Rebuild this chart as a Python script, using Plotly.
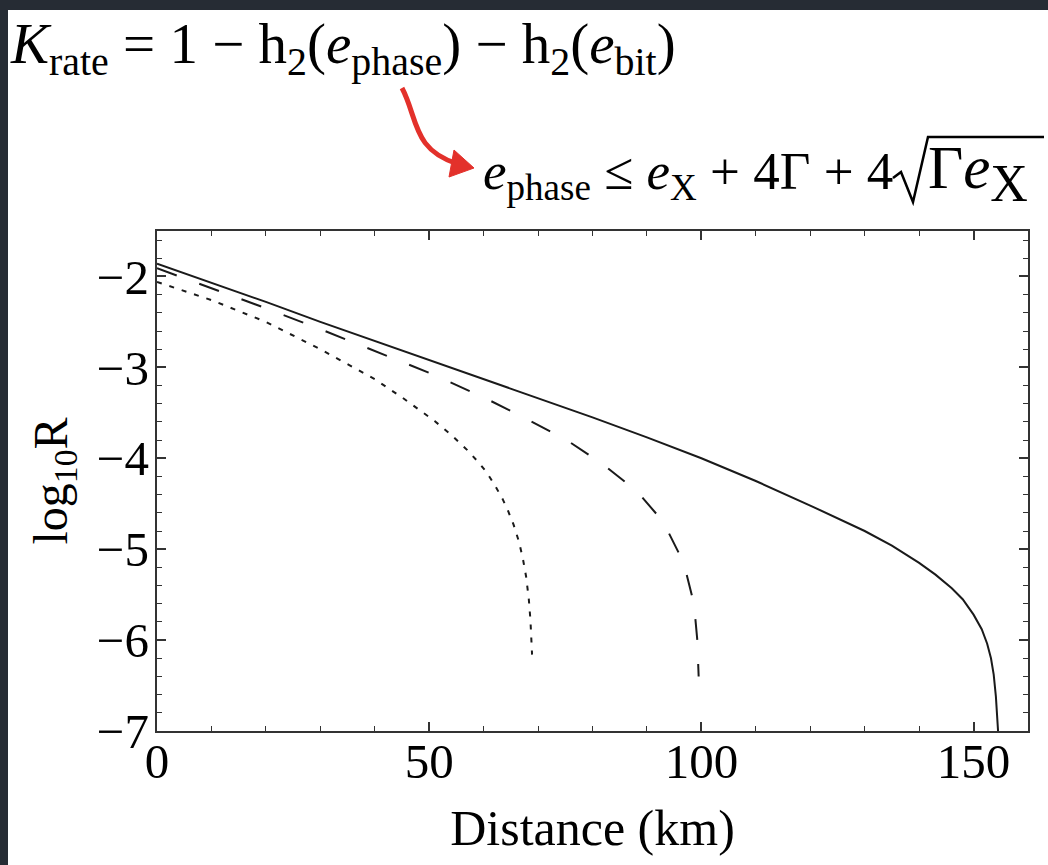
import plotly.graph_objects as go

# ---- data ----
solid_x = [0, 10, 20, 30, 40, 50, 60, 70, 80, 90, 100, 110, 120, 130, 135, 140, 143, 146, 148, 150, 151.5, 152.5, 153.2, 153.7, 154.1, 154.5]
solid_y = [-1.86, -2.07, -2.28, -2.50, -2.71, -2.92, -3.13, -3.34, -3.55, -3.77, -4.00, -4.25, -4.52, -4.80, -4.96, -5.15, -5.28, -5.43, -5.55, -5.72, -5.88, -6.04, -6.20, -6.38, -6.62, -7.0]

dashed_x = [0, 10, 20, 30, 40, 50, 60, 67, 75, 82, 86, 89, 92, 94, 96, 97.3, 98.3, 98.9, 99.25, 99.45, 99.5]
dashed_y = [-1.91, -2.13, -2.35, -2.58, -2.82, -3.06, -3.33, -3.54, -3.79, -4.07, -4.26, -4.42, -4.63, -4.82, -5.06, -5.28, -5.52, -5.77, -6.00, -6.25, -6.40]

dotted_x = [0, 10, 20, 30, 40, 45, 48, 51, 54, 57, 59, 60.5, 62, 63.5, 64.5, 65.5, 66.5, 67.2, 67.8, 68.3, 68.6, 68.8, 68.9]
dotted_y = [-2.06, -2.26, -2.50, -2.80, -3.13, -3.33, -3.46, -3.59, -3.74, -3.91, -4.04, -4.15, -4.29, -4.45, -4.58, -4.73, -4.92, -5.10, -5.30, -5.55, -5.78, -6.00, -6.16]

x_ticks = [0, 50, 100, 150]
y_ticks = [-7, -6, -5, -4, -3, -2]

# ---- layout geometry (pixels) ----
W, H = 1048, 865
L, R, T, B = 157, 1028, 231, 731


def px(x):
    return (x - L) / (R - L)


def py(y):
    return (B - y) / (B - T)


FONT = "Liberation Serif"
INK = "#1a1a1a"
AX = "#333333"

fig = go.Figure()
fig.add_trace(go.Scatter(x=solid_x, y=solid_y, mode="lines",
                         line=dict(color=INK, width=2), showlegend=False))
fig.add_trace(go.Scatter(x=dashed_x, y=dashed_y, mode="lines",
                         line=dict(color=INK, width=2, dash="21px,24px"), showlegend=False))
fig.add_trace(go.Scatter(x=dotted_x, y=dotted_y, mode="lines",
                         line=dict(color=INK, width=2, dash="5px,8px"), showlegend=False))

axis_common = dict(
    showline=True, linecolor=AX, linewidth=2.4, mirror="ticks",
    ticks="inside", ticklen=9, tickwidth=1.5, tickcolor=AX,
    showgrid=False, zeroline=False, automargin=False,
    tickfont=dict(family=FONT, size=49, color="black"),
)

fig.update_xaxes(
    range=[0, 160], tickmode="array", tickvals=x_ticks,
    minor=dict(dtick=10, tick0=0, ticks="inside", ticklen=5, tickwidth=1.2, tickcolor=AX, showgrid=False),
    title=dict(text="Distance (km)", font=dict(family=FONT, size=50, color="black"), standoff=22),
    ticklabelstandoff=-14,
    **axis_common,
)
fig.update_yaxes(
    range=[-7, -1.5], tickmode="array", tickvals=y_ticks,
    minor=dict(dtick=0.2, tick0=0, ticks="inside", ticklen=5, tickwidth=1.2, tickcolor=AX, showgrid=False),
    title=dict(text="log<sub>10</sub>R", font=dict(family=FONT, size=48, color="black"), standoff=14),
    ticklabelstandoff=-4,
    **axis_common,
)

shapes = []
# dark frame bands (top and left) of the screenshot
dark = "#262c34"
shapes.append(dict(type="rect", xref="paper", yref="paper", x0=px(-5), x1=px(W + 5), y0=py(10), y1=py(-5),
                   fillcolor=dark, line=dict(width=0), layer="above"))
shapes.append(dict(type="rect", xref="paper", yref="paper", x0=px(-5), x1=px(8), y0=py(H + 5), y1=py(-5),
                   fillcolor=dark, line=dict(width=0), layer="above"))

# red curved arrow
red = "#e3312b"
p0, c1, c2, p1 = (402, 88), (418, 118), (412, 150), (458, 164)
path = "M {} {} C {} {} {} {} {} {}".format(px(p0[0]), py(p0[1]), px(c1[0]), py(c1[1]),
                                           px(c2[0]), py(c2[1]), px(p1[0]), py(p1[1]))
shapes.append(dict(type="path", xref="paper", yref="paper", path=path,
                   line=dict(color=red, width=5), layer="above"))
head = "M {} {} L {} {} L {} {} Z".format(px(474), py(168), px(454), py(150), px(449), py(177))
shapes.append(dict(type="path", xref="paper", yref="paper", path=head,
                   fillcolor=red, line=dict(color=red, width=1), layer="above"))

# radical sign for sqrt
rad = "M {} {} L {} {} L {} {} L {} {} L {} {}".format(px(893), py(178), px(901), py(172), px(913), py(202),
                                                    px(928), py(137), px(1044), py(137))
shapes.append(dict(type="path", xref="paper", yref="paper", path=rad,
                   line=dict(color="black", width=2.5), layer="above"))

annotations = [
    dict(text="<i>K</i><sub>rate</sub> = 1 − h<sub>2</sub>(<i>e</i><sub>phase</sub>) − h<sub>2</sub>(<i>e</i><sub>bit</sub>)",
         xref="paper", yref="paper", x=px(8), y=py(48), xanchor="left", yanchor="middle",
         showarrow=False, font=dict(family=FONT, size=57, color="black")),
    dict(text="<i>e</i><sub>phase</sub> ≤ <i>e</i><sub>X</sub> + 4Γ + 4",
         xref="paper", yref="paper", x=px(895), y=py(175), xanchor="right", yanchor="middle",
         showarrow=False, font=dict(family=FONT, size=53, color="black")),
    dict(text="Γ<i>e</i><sub><span style=\"font-size:52px\">X</span></sub>",
         xref="paper", yref="paper", x=px(926), y=py(173), xanchor="left", yanchor="middle",
         showarrow=False, font=dict(family=FONT, size=61, color="black")),
]

fig.update_layout(
    width=W, height=H,
    margin=dict(l=L, r=W - R, t=T, b=H - B, pad=0),
    paper_bgcolor="white", plot_bgcolor="white",
    shapes=shapes, annotations=annotations,
    showlegend=False,
)

fig.write_html("out.html")
